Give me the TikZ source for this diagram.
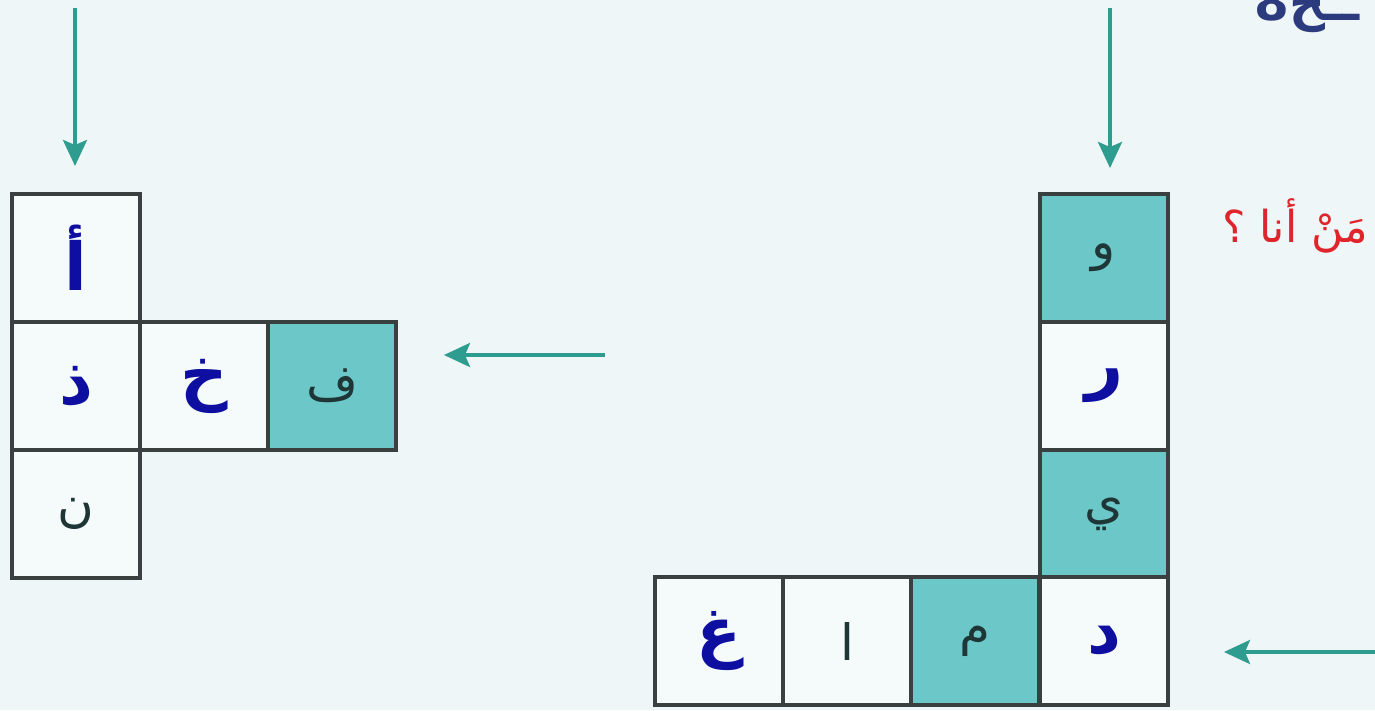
\documentclass[tikz,border=0pt]{standalone}
\usepackage{fontspec}
\usetikzlibrary{arrows.meta}
\TeXXeTstate=1
\newfontfamily\arabicfont[Script=Arabic]{DejaVu Sans}
\definecolor{bgc}{HTML}{EEF6F8}
\definecolor{tealfill}{HTML}{6CC7C9}
\definecolor{bordc}{HTML}{3A3F3F}
\definecolor{arrc}{HTML}{2E9C8E}
\definecolor{bluel}{HTML}{0E0EA0}
\definecolor{darkl}{HTML}{1E3636}
\definecolor{redt}{HTML}{E0242C}
\definecolor{navyt}{HTML}{2C3A7E}
\tikzset{
  cell/.style={draw=bordc, line width=3.4pt, minimum size=128pt, inner sep=0pt, anchor=center, fill=bgc!60!white},
  tcell/.style={cell, fill=tealfill},
  bigl/.style={text=bluel, font=\fontsize{66}{72}\selectfont\arabicfont\bfseries},
  smalll/.style={text=darkl, font=\fontsize{50}{56}\selectfont\arabicfont},
  arr/.style={draw=arrc, line width=3.6pt, -{Stealth[length=26pt,width=24pt,inset=5pt]}},
}
\begin{document}
\begin{tikzpicture}[x=1pt,y=-1pt]
\useasboundingbox (0,0) rectangle (1375,710);
\clip (0,0) rectangle (1375,710);
\fill[bgc] (0,0) rectangle (1375,710);
% left grid
\node[cell, bigl] (a1) at (76,258) {\beginR أ\endR};
\node[cell, bigl] (b1) at (76,386) {\beginR ذ\endR};
\node[cell, bigl] (b2) at (204,386) {\beginR خ\endR};
\node[tcell, smalll] (b3) at (332,386) {\beginR ف\endR};
\node[cell, smalll] (c1) at (76,514) {\beginR ن\endR};
% right grid
\node[tcell, smalll] (r1) at (1104,258) {\beginR و\endR};
\node[cell, bigl] (r2) at (1104,386) {\beginR ر\endR};
\node[tcell, smalll] (r3) at (1104,514) {\beginR ي\endR};
\node[cell, bigl] (r4) at (1104,641) {\beginR د\endR};
\node[tcell, smalll] (q3) at (975,641) {\beginR م\endR};
\node[cell, smalll] (q2) at (847,641) {\beginR ا\endR};
\node[cell, bigl] (q1) at (719,641) {\beginR غ\endR};
% arrows
\coordinate (s1) at (75,8);
\coordinate (e1) at (75,166);
\coordinate (s2) at (1110,8);
\coordinate (e2) at (1110,168);
\coordinate (s3) at (605,355);
\coordinate (e3) at (444,355);
\coordinate (s4) at (1380,652);
\coordinate (e4) at (1224,652);
\draw[arr] (s1) -- (e1);
\draw[arr] (s2) -- (e2);
\draw[arr] (s3) -- (e3);
\draw[arr] (s4) -- (e4);
% texts
\node[anchor=west, text=redt, font=\fontsize{44}{50}\selectfont\arabicfont, inner sep=0pt] (who) at (1222,226) {\beginR مَنْ أنا ؟\endR};
\node[anchor=base west, text=navyt, font=\fontsize{50}{56}\selectfont\arabicfont\bfseries, inner sep=0pt] (top) at (1254,20) {\beginR ــح8\endR};
\end{tikzpicture}
\end{document}
